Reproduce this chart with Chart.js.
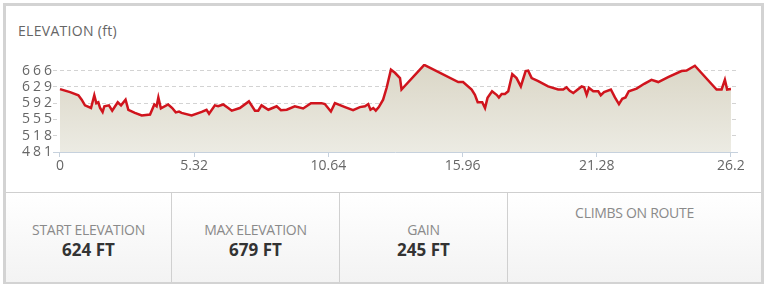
<!DOCTYPE html>
<html>
<head>
<meta charset="utf-8">
<script src="https://cdn.jsdelivr.net/npm/chart.js@4/dist/chart.umd.min.js"></script>
<style>
  body { margin: 0; width: 768px; height: 289px; background: #fff; font-family: "Open Sans", sans-serif; position: relative; overflow: hidden; }
  .frame { position: absolute; left: 3px; top: 3px; width: 755px; height: 275px; border: 3px solid #d3d3d3; }
  .title { position: absolute; left: 18px; top: 21px; font-size: 14px; line-height: 20px; color: #666; letter-spacing: 0.3px; }
  #wrap { position: absolute; left: 0; top: 50px; width: 768px; height: 130px; }
  .stats { position: absolute; left: 6px; top: 192px; width: 755px; height: 89px; border-top: 1px solid #cfcfcf;
           background: linear-gradient(#ffffff, #f3f3f3); display: flex; }
  .cell { position: relative; height: 100%; border-right: 1px solid #d0d0d0; text-align: center; }
  .cell:last-child { border-right: none; flex: 1; }
  .label { position: absolute; left: 0; right: 0; top: 28px; font-size: 14px; line-height: 18px; color: #8a8a8a; letter-spacing: -0.3px; }
  .value { position: absolute; left: 0; right: 0; top: 46px; font-size: 17px; line-height: 22px; font-weight: bold; color: #333; }
  .climbs .label { top: 11px; }
</style>
</head>
<body>
<div class="frame"></div>
<div class="title">ELEVATION (ft)</div>
<div id="wrap"><canvas id="elevationChart"></canvas></div>
<div class="stats">
  <div class="cell" style="width:165px"><div class="label">START ELEVATION</div><div class="value">624 FT</div></div>
  <div class="cell" style="width:167px"><div class="label">MAX ELEVATION</div><div class="value">679 FT</div></div>
  <div class="cell" style="width:167px"><div class="label">GAIN</div><div class="value">245 FT</div></div>
  <div class="cell climbs"><div class="label">CLIMBS ON ROUTE</div></div>
</div>
<script>
// Elevation profile (distance in miles, elevation in ft)
const distances = [
  0, 0.40, 0.73, 0.86, 0.99, 1.23, 1.36, 1.44, 1.52, 1.59, 1.69, 1.76, 1.94, 2.07, 2.29, 2.42, 2.60, 2.71, 2.97, 3.24,
  3.57, 3.74, 3.83, 3.90, 4.00, 4.29, 4.45, 4.59, 4.72, 4.82, 5.22, 5.62, 5.81, 5.91, 6.14, 6.27, 6.47, 6.67, 6.81, 7.13,
  7.49, 7.73, 7.86, 7.99, 8.26, 8.59, 8.76, 8.99, 9.31, 9.64, 9.95, 10.37, 10.50, 10.74, 10.90, 11.30, 11.62, 11.89, 12.09, 12.22,
  12.31, 12.42, 12.52, 12.64, 12.81, 12.95, 13.12, 13.28, 13.48, 13.54, 14.44, 15.79, 15.98, 16.32, 16.45, 16.56, 16.74, 16.85, 16.95, 17.13,
  17.31, 17.40, 17.51, 17.64, 17.77, 17.93, 18.10, 18.27, 18.46, 18.56, 18.70, 18.96, 19.35, 19.75, 19.95, 20.08, 20.21, 20.35, 20.68, 20.78,
  20.88, 20.97, 21.14, 21.34, 21.44, 21.57, 21.84, 22.00, 22.16, 22.29, 22.42, 22.55, 22.86, 23.16, 23.45, 23.72, 24.11, 24.64, 24.84, 25.17,
  26.03, 26.23, 26.36, 26.45, 26.60
];
const elevations = [
  624, 617, 610, 600, 587, 581, 610, 592, 594, 581, 572, 585, 587, 575, 594, 587, 600, 577, 570, 564,
  566, 589, 585, 605, 580, 589, 581, 571, 573, 570, 564, 572, 577, 568, 587, 585, 589, 581, 575, 581,
  596, 575, 575, 587, 577, 585, 576, 577, 585, 580, 592, 592, 590, 573, 592, 583, 576, 583, 585, 590,
  577, 581, 575, 583, 600, 627, 668, 661, 649, 623, 679, 640, 640, 623, 611, 594, 594, 581, 604, 619,
  611, 605, 613, 613, 619, 658, 649, 630, 665, 666, 649, 642, 630, 623, 623, 628, 620, 615, 630, 628,
  611, 627, 619, 619, 610, 617, 623, 605, 590, 602, 605, 619, 625, 636, 645, 640, 651, 665, 666, 677,
  623, 623, 645, 623, 624
];
const xTickValues = [0, 5.32, 10.64, 15.96, 21.28, 26.6];
const xTickLabels = ['0', '5.32', '10.64', '15.96', '21.28', '26.2'];
const yTickValues = [481, 518, 555, 592, 629, 666];

const axisColor = '#c6d1dd';

// y labels in the reference are spaced out, so draw them with letter spacing
const spacedYLabels = {
  id: 'spacedYLabels',
  afterDatasetsDraw(chart) { chart.ctx.letterSpacing = '3px'; },
  afterDraw(chart) { chart.ctx.letterSpacing = '0px'; }
};

const ctx = document.getElementById('elevationChart');
new Chart(ctx, {
  type: 'line',
  data: {
    datasets: [{
      data: distances.map((d, i) => ({ x: d, y: elevations[i] })),
      borderColor: '#d0141d',
      borderWidth: 2.5,
      pointRadius: 0,
      tension: 0,
      fill: 'start',
      backgroundColor: (c) => {
        const area = c.chart.chartArea;
        if (!area) return '#e4e2d8';
        const g = c.chart.ctx.createLinearGradient(0, area.top, 0, area.bottom);
        g.addColorStop(0, '#dad6c6');
        g.addColorStop(1, '#ecebe3');
        return g;
      }
    }]
  },
  options: {
    responsive: true,
    maintainAspectRatio: false,
    animation: false,
    layout: { padding: { top: 14, right: 31, left: 0, bottom: 0 } },
    plugins: { legend: { display: false }, tooltip: { enabled: false } },
    scales: {
      x: {
        type: 'linear',
        min: -0.277,
        max: 26.84,
        afterBuildTicks: (scale) => { scale.ticks = xTickValues.map(v => ({ value: v })); },
        afterFit: (scale) => { scale.height = 28; },
        ticks: {
          autoSkip: false,
          maxRotation: 0,
          padding: 1,
          color: '#666',
          font: { family: 'Open Sans', size: 14 },
          callback: (val, i) => xTickLabels[i]
        },
        grid: { drawOnChartArea: false, drawTicks: true, tickLength: 5, tickColor: axisColor, color: axisColor },
        border: { display: true, color: axisColor, width: 1 }
      },
      y: {
        min: 481,
        max: 681,
        afterBuildTicks: (scale) => { scale.ticks = yTickValues.map(v => ({ value: v })); },
        afterFit: (scale) => { scale.width = 53; },
        ticks: {
          autoSkip: false,
          z: 1,
          padding: -2,
          color: '#666',
          font: { family: 'Open Sans', size: 14 }
        },
        grid: {
          drawTicks: false,
          color: (c) => c.tick && c.tick.value === 481 ? 'rgba(0,0,0,0)' : '#d3d3d3'
        },
        border: { display: false, dash: [4, 3] }
      }
    }
  },
  plugins: [spacedYLabels]
});
</script>
</body>
</html>
